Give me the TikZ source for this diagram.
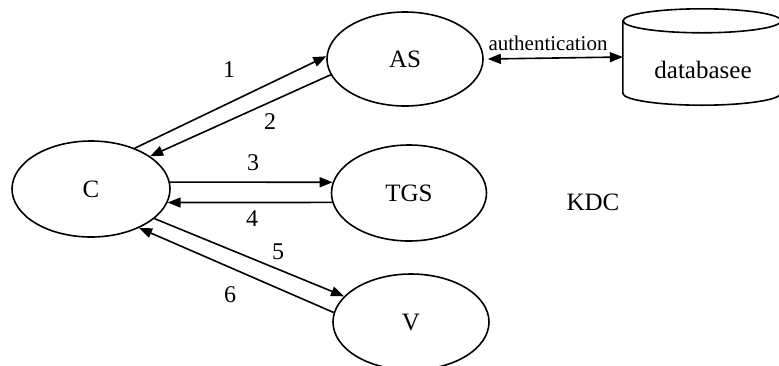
\documentclass[tikz,border=0pt]{standalone}
\usepackage{fontspec}
\setmainfont{Liberation Serif}
\usetikzlibrary{arrows.meta,shapes.geometric}
\begin{document}
\begin{tikzpicture}[x=1pt,y=-1pt,
  party/.style={ellipse, draw, line width=1.6pt, inner sep=0pt,
    font=\fontsize{25}{30}\selectfont},
  msg/.style={-{Triangle[length=13pt,width=10pt]}, line width=1.6pt},
  num/.style={font=\fontsize{24}{28}\selectfont}]
\useasboundingbox (0,0) rectangle (779,365);

% principals
\node[party, minimum width=158pt, minimum height=96pt] (C)   at (91,189)  {C};
\node[party, minimum width=156pt, minimum height=94pt] (AS)  at (405,59)  {AS};
\node[party, minimum width=155pt, minimum height=96pt] (TGS) at (409,193) {TGS};
\node[party, minimum width=156pt, minimum height=96pt] (V)   at (411,322) {V};

% database cylinder
\node[minimum width=158pt, minimum height=72pt, inner sep=0pt] (db) at (702,57) {};
\draw[line width=1.6pt] (db.north west) -- (db.south west)
  arc[start angle=180, end angle=360, x radius=79pt, y radius=12pt]
  -- (db.north east);
\draw[line width=1.6pt] (db.north) ellipse [x radius=79pt, y radius=12pt];
\node[font=\fontsize{25}{30}\selectfont] (dbtext) at (703,70) {databasee};

\node[font=\fontsize{25}{30}\selectfont] (kdc) at (593,202) {KDC};

% authentication link
\draw[{Triangle[length=13pt,width=10pt]}-{Triangle[length=13pt,width=10pt]}, line width=1.6pt]
  ([xshift=4pt]AS.east) -- (db.west);
\node[font=\fontsize{21}{25}\selectfont] (auth) at (548,43) {authentication};

% message exchanges
\draw[msg] (C.43)   -- (AS.178);
\draw[msg] (AS.192) -- (C.29);
\draw[msg] (C.5)    -- (TGS.172);
\draw[msg] (TGS.187) -- (C.350);
\draw[msg] (C.335)  -- (V.159);
\draw[msg] (V.173)  -- (C.321);

% step numbers
\node[num] (n1) at (229,70)  {1};
\node[num] (n2) at (270,122) {2};
\node[num] (n3) at (253,163) {3};
\node[num] (n4) at (252,219) {4};
\node[num] (n5) at (278,252) {5};
\node[num] (n6) at (230,295) {6};
\end{tikzpicture}
\end{document}
